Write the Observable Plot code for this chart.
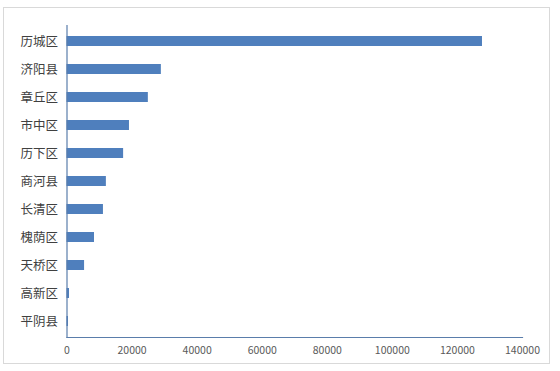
<!DOCTYPE html>
<html>
<head>
<meta charset="utf-8">
<script src="https://cdn.jsdelivr.net/npm/d3@7"></script>
<script src="https://cdn.jsdelivr.net/npm/@observablehq/plot@0.6"></script>
<style>
  html, body { margin: 0; padding: 0; background: #fff; }
  #wrap { position: relative; width: 560px; height: 371px; }
  #border { position: absolute; left: 3px; top: 7px; width: 545px; height: 355px; border: 1px solid #d9d9d9; pointer-events: none; }
  svg { display: block; }
</style>
</head>
<body>
<div id="wrap"><div id="border"></div></div>
<script>
const districts = ["历城区", "济阳县", "章丘区", "市中区", "历下区", "商河县", "长清区", "槐荫区", "天桥区", "高新区", "平阴县"];
const values = [127700, 29000, 25000, 19200, 17400, 12100, 11200, 8450, 5400, 770, 460];
const xTicks = [0, 20000, 40000, 60000, 80000, 100000, 120000, 140000];

const data = districts.map((d, i) => ({district: d, value: values[i]}));

const chart = Plot.plot({
  width: 560,
  height: 371,
  marginLeft: 66.5,
  marginRight: 38,
  marginTop: 25,
  marginBottom: 34,
  style: {fontFamily: "'Noto Sans CJK SC', 'Noto Sans', sans-serif", background: "transparent"},
  x: {domain: [0, 140000], ticks: xTicks},
  y: {domain: districts, paddingInner: 0.65, paddingOuter: 0.325},
  marks: [
    Plot.barX(data, {x: "value", y: "district", fill: "#4f7fbd"}),
    Plot.frame({anchor: "left", stroke: "#5a7dab", strokeWidth: 1.2}),
    Plot.frame({anchor: "bottom", stroke: "#5a7dab", strokeWidth: 1.2}),
    Plot.axisX({ticks: xTicks, tickSize: 0, tickPadding: 9, tickFormat: d3.format("d"), fontSize: 10.5, fill: "#595959", label: null}),
    Plot.axisY({tickSize: 0, tickPadding: 9, fontSize: 12.5, fill: "#404040", label: null})
  ]
});
document.getElementById("wrap").prepend(chart);
</script>
</body>
</html>
